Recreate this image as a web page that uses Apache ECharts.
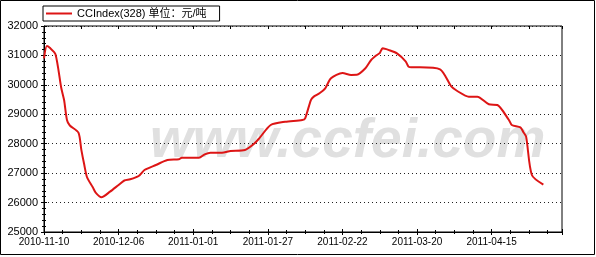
<!DOCTYPE html>
<html>
<head>
<meta charset="utf-8">
<script src="https://cdn.jsdelivr.net/npm/echarts@6/dist/echarts.min.js"></script>
<style>
html,body{margin:0;padding:0;background:#fff;}
#c{width:596px;height:257px;}
</style>
</head>
<body>
<div id="c"></div>
<script>
const seriesName = 'CCIndex(328) 单位：元/吨';
const startDate = '2010-11-10';
const tickLabels = ['2010-11-10','2010-12-06','2011-01-01','2011-01-27','2011-02-22','2011-03-20','2011-04-15'];
const dates = [
 '2010-11-10','2010-11-11','2010-11-12','2010-11-14','2010-11-16','2010-11-17','2010-11-18','2010-11-19',
 '2010-11-22','2010-11-23','2010-11-24','2010-11-25','2010-11-27','2010-11-28','2010-11-30','2010-12-03',
 '2010-12-06','2010-12-08','2010-12-10','2010-12-13','2010-12-15','2010-12-19','2010-12-23','2010-12-27',
 '2010-12-28','2011-01-03','2011-01-05','2011-01-07','2011-01-11','2011-01-14','2011-01-19','2011-01-22',
 '2011-01-24','2011-01-28','2011-02-02','2011-02-08','2011-02-09','2011-02-11','2011-02-12','2011-02-14',
 '2011-02-16','2011-02-18','2011-02-22','2011-02-25','2011-02-27','2011-03-02','2011-03-04','2011-03-06',
 '2011-03-07','2011-03-08','2011-03-10','2011-03-13','2011-03-16','2011-03-17','2011-03-18','2011-03-21',
 '2011-03-28','2011-04-01','2011-04-03','2011-04-07','2011-04-10','2011-04-14','2011-04-17','2011-04-21',
 '2011-04-22','2011-04-25','2011-04-26','2011-04-27','2011-04-29','2011-05-03'
];
const values = [
 30900,31320,31260,31040,29900,29485,28806,28620,
 28375,27800,27300,26860,26520,26340,26180,26370,
 26600,26750,26790,26903,27107,27277,27447,27470,
 27525,27525,27640,27695,27695,27752,27786,27980,
 28184,28636,28748,28806,28864,29485,29600,29713,
 29883,30223,30400,30335,30340,30562,30845,31015,
 31080,31243,31190,31072,30800,30620,30596,30596,
 30529,29938,29791,29597,29597,29339,29315,28806,
 28636,28558,28400,28240,26937,26610
];

const DAY = 86400000;
const t0 = Date.parse(startDate);
const data = dates.map((d, i) => [(Date.parse(d) - t0) / DAY, values[i]]);
const FONT = "'Liberation Sans', Arial, 'Noto Sans CJK SC', sans-serif";

const chart = echarts.init(document.getElementById('c'), null, {renderer: 'canvas'});
const xmax = 180.5;
chart.setOption({
  animation: false,
  backgroundColor: '#fff',
  textStyle: {fontFamily: FONT},
  grid: {left: 44, right: 34, top: 26, bottom: 25, show: true, borderColor: '#000', borderWidth: 1, backgroundColor: 'transparent'},
  legend: {
    left: 43, top: 6, padding: [1, 13, 1, 3],
    borderColor: '#000', borderWidth: 1, borderRadius: 0,
    icon: 'rect', itemWidth: 26, itemHeight: 2, itemGap: 5,
    textStyle: {fontSize: 11, color: '#000', fontFamily: FONT, lineHeight: 13},
    data: [seriesName]
  },
  graphic: [
    {type: 'rect', z: 100, silent: true, shape: {x: 0.5, y: 0.5, width: 594, height: 254},
     style: {fill: 'none', stroke: '#000', lineWidth: 1}},
    {type: 'text', z: -10, silent: true, x: 150, y: 142,
     style: {text: 'www.ccfei.com', font: "italic bold 55px 'Liberation Sans', Arial, sans-serif",
       fill: '#e0e0e0', verticalAlign: 'middle', align: 'left'}}
  ],
  xAxis: [
    {type: 'value', min: 0, max: xmax, interval: 26, position: 'bottom',
     axisLine: {show: true, onZero: false, lineStyle: {color: '#000', width: 1}},
     axisTick: {show: true, length: 3, lineStyle: {color: '#000'}},
     minorTick: {show: true, splitNumber: 4, length: 2, lineStyle: {color: '#000'}},
     splitLine: {show: false},
     axisLabel: {fontSize: 10, color: '#000', margin: 5, fontFamily: FONT,
       formatter: function (v) {
         const i = Math.round(v / 26);
         return (Math.abs(v - i * 26) < 1e-6 && tickLabels[i]) ? tickLabels[i] : '';
       }}},
    {type: 'value', min: 0, max: xmax, interval: 26, position: 'bottom',
     axisLine: {show: false}, axisLabel: {show: false}, splitLine: {show: false},
     axisTick: {show: true, inside: true, length: 3, lineStyle: {color: '#000'}},
     minorTick: {show: true, splitNumber: 4, length: 2, lineStyle: {color: '#000'}}},
    {type: 'value', min: 0, max: xmax, interval: 13, position: 'top',
     axisLine: {show: false}, axisLabel: {show: false}, splitLine: {show: false},
     axisTick: {show: true, inside: true, length: 3, lineStyle: {color: '#000'}}}
  ],
  yAxis: [
    {type: 'value', min: 25000, max: 32000, interval: 1000, position: 'left',
     axisLine: {show: true, onZero: false, lineStyle: {color: '#000', width: 1}},
     axisTick: {show: true, length: 3, lineStyle: {color: '#000'}},
     minorTick: {show: true, splitNumber: 5, length: 2, lineStyle: {color: '#000'}},
     splitLine: {show: true, lineStyle: {color: '#222', type: [1, 3], width: 1}},
     axisLabel: {fontSize: 11, color: '#000', margin: 6, fontFamily: FONT,
       formatter: function (v) { return String(v); }}},
    {type: 'value', min: 25000, max: 32000, interval: 1000, position: 'left',
     axisLine: {show: false}, axisLabel: {show: false}, splitLine: {show: false},
     axisTick: {show: true, inside: true, length: 3, lineStyle: {color: '#000'}},
     minorTick: {show: true, splitNumber: 5, length: 2, lineStyle: {color: '#000'}}}
  ],
  series: [{
    name: seriesName, type: 'line', xAxisIndex: 0, yAxisIndex: 0,
    data: data, symbol: 'none', smooth: 0.25,
    lineStyle: {color: '#dd1515', width: 2}, itemStyle: {color: '#dd1515'}
  }]
});
</script>
</body>
</html>
